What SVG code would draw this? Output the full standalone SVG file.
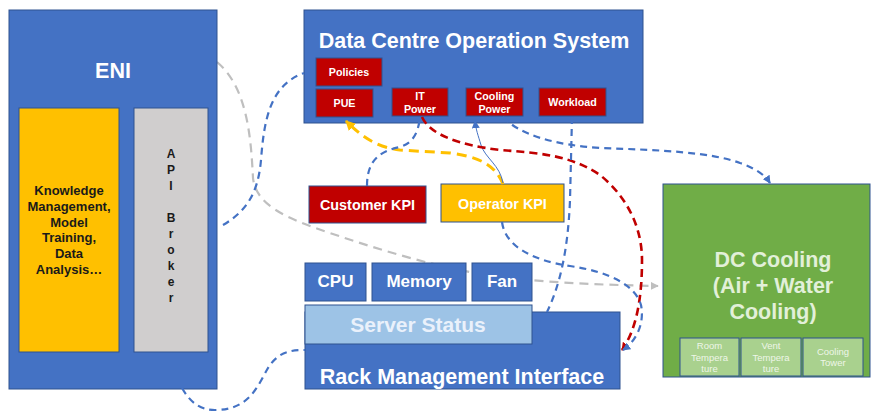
<svg xmlns="http://www.w3.org/2000/svg" width="871" height="412" viewBox="0 0 871 412">
<defs>
<style>
text{font-family:"Liberation Sans",Arial,sans-serif;font-weight:bold;text-anchor:middle}
.blue{fill:#4472C4;stroke:#2F528F;stroke-width:1}
.red{fill:#C00000;stroke:#2F528F;stroke-width:1}
.yel{fill:#FFC000;stroke:#2F528F;stroke-width:1}
.gry{fill:#D0CECE;stroke:#2F528F;stroke-width:1}
.w{fill:#FFFFFF}
.k{fill:#1a1a1a}
.t20{font-size:21.5px}
.t11{font-size:10.7px}
.c{fill:none;stroke-width:2.2;stroke-dasharray:7 5}
.cb{stroke:#4472C4}
.cr{stroke:#C00000;stroke-width:2.6;stroke-dasharray:8 5}
.cy{stroke:#FFC000;stroke-width:3;stroke-dasharray:10 6}
.cg{stroke:#BFBFBF;stroke-dasharray:9 6}
.sub{fill:#A9D18E;stroke:#2F528F;stroke-width:1}
.subt{font-size:9.5px;font-weight:normal;fill:#EEF6E8}
</style>
<marker id="ab" viewBox="0 0 10 10" refX="9" refY="5" markerWidth="8" markerHeight="8" markerUnits="userSpaceOnUse" orient="auto"><path d="M0,0 L10,5 L0,10 z" fill="#4472C4"/></marker>
<marker id="ar" viewBox="0 0 10 10" refX="9" refY="5" markerWidth="8" markerHeight="8" markerUnits="userSpaceOnUse" orient="auto"><path d="M0,0 L10,5 L0,10 z" fill="#C00000"/></marker>
<marker id="ay" viewBox="0 0 10 10" refX="9" refY="5" markerWidth="10" markerHeight="10" markerUnits="userSpaceOnUse" orient="auto"><path d="M0,0 L10,5 L0,10 z" fill="#FFC000"/></marker>
<marker id="ag" viewBox="0 0 10 10" refX="9" refY="5" markerWidth="8" markerHeight="8" markerUnits="userSpaceOnUse" orient="auto"><path d="M0,0 L10,5 L0,10 z" fill="#BFBFBF"/></marker>
</defs>
<rect width="871" height="412" fill="#FFFFFF"/>

<g id="connectors-back">
<path class="c cg" d="M217,62 C248,88 251,140 253,178 C256,205 285,218 330,233 C380,250 430,265 480,274 C530,282 600,285 658,286" marker-end="url(#ag)"/>
</g>

<g id="eni">
<rect class="blue" x="9" y="10" width="208" height="379"/>
<text class="w t20" x="113" y="78">ENI</text>
<rect class="yel" x="19" y="108" width="100" height="244"/>
<text class="k" font-size="13" x="69" y="195">Knowledge</text>
<text class="k" font-size="13" x="69" y="211">Management,</text>
<text class="k" font-size="13" x="69" y="227">Model</text>
<text class="k" font-size="13" x="69" y="242">Training,</text>
<text class="k" font-size="13" x="69" y="258">Data</text>
<text class="k" font-size="13" x="69" y="274">Analysis…</text>
<rect class="gry" x="134" y="108" width="74" height="244"/>
<g class="k" font-size="12">
<text x="171" y="158">A</text>
<text x="171" y="174">P</text>
<text x="171" y="190">I</text>
<text x="171" y="222">B</text>
<text x="171" y="238">r</text>
<text x="171" y="254">o</text>
<text x="171" y="270">k</text>
<text x="171" y="286">e</text>
<text x="171" y="302">r</text>
</g>
</g>

<g id="dcos">
<rect class="blue" x="304" y="10" width="339" height="113"/>
<text class="w t20" x="474" y="48">Data Centre Operation System</text>
<g id="policies"><rect class="red" x="316" y="58" width="66" height="28"/><text class="w t11" x="349" y="76">Policies</text></g>
<g id="pue"><rect class="red" x="316" y="89" width="57" height="28"/><text class="w t11" x="344.5" y="107">PUE</text></g>
<g id="it-power"><rect class="red" x="392" y="88" width="56" height="28"/><text class="w t11" x="420" y="100">IT</text><text class="w t11" x="420" y="113">Power</text></g>
<g id="cooling-power"><rect class="red" x="466" y="88" width="57" height="28"/><text class="w t11" x="494.5" y="100">Cooling</text><text class="w t11" x="494.5" y="113">Power</text></g>
<g id="workload"><rect class="red" x="539" y="88" width="67" height="28"/><text class="w t11" x="572.5" y="106">Workload</text></g>
</g>

<g id="customer-kpi">
<rect class="red" x="309" y="186" width="117" height="37"/>
<text class="w" font-size="14.4" x="367.5" y="210">Customer KPI</text>
</g>
<g id="operator-kpi">
<rect class="yel" x="441" y="184" width="123" height="38"/>
<text class="w" font-size="14.4" x="502.5" y="209">Operator KPI</text>
</g>

<g id="rack">
<rect class="blue" x="305" y="312" width="315" height="77"/>
<text class="w t20" x="462" y="384">Rack Management Interface</text>
<g id="cpu"><rect class="blue" x="305" y="263" width="61" height="38"/><text class="w" font-size="17" x="335.5" y="287">CPU</text></g>
<g id="memory"><rect class="blue" x="372" y="263" width="94" height="38"/><text class="w" font-size="17" x="419" y="287">Memory</text></g>
<g id="fan"><rect class="blue" x="472" y="263" width="60" height="38"/><text class="w" font-size="17" x="502" y="287">Fan</text></g>
<g id="server-status"><rect x="305" y="305" width="227" height="39" fill="#9DC3E6" stroke="#2F528F" stroke-width="1"/><text font-size="21" fill="#EAF1FB" x="418" y="332">Server Status</text></g>
</g>

<g id="dc-cooling">
<rect x="663" y="184" width="207" height="193" fill="#70AD47" stroke="#2F528F" stroke-width="1"/>
<text class="t20" fill="#E2F0D9" x="773" y="267">DC Cooling</text>
<text class="t20" fill="#E2F0D9" x="773" y="293">(Air + Water</text>
<text class="t20" fill="#E2F0D9" x="773" y="319">Cooling)</text>
<g id="room-temp"><rect class="sub" x="680" y="338" width="59" height="38"/><text class="subt" x="709.5" y="349">Room</text><text class="subt" x="709.5" y="361">Tempera</text><text class="subt" x="709.5" y="372">ture</text></g>
<g id="vent-temp"><rect class="sub" x="741" y="338" width="60" height="38"/><text class="subt" x="771" y="349">Vent</text><text class="subt" x="771" y="361">Tempera</text><text class="subt" x="771" y="372">ture</text></g>
<g id="cooling-tower"><rect class="sub" x="803" y="338" width="60" height="38"/><text class="subt" x="833" y="355">Cooling</text><text class="subt" x="833" y="366">Tower</text></g>
</g>

<g id="connectors">
<path class="c cb" d="M223,225 C245,212 258,195 261,160 C264,120 270,85 304,73"/>
<path class="c cb" d="M182,388 C190,402 200,410 215,410 C250,410 258,385 268,368 C278,352 290,350 305,350"/>
<path class="c cy" d="M503,184 C495,165 480,157 450,153 L400,150 C375,147 360,135 346,121" marker-end="url(#ay)"/>
<path fill="none" stroke="#4472C4" stroke-width="1" d="M503,183 C500,165 485,158 481,145 C478,135 476,130 475,121" marker-end="url(#ab)"/>
<path class="c cb" d="M367,186 C367,165 375,152 400,147 C412,143 418,135 420,117"/>
<path class="c cr" d="M422,117 C430,135 460,145 500,150 C540,153 570,155 600,175 C625,195 642,225 642,260 C642,300 636,330 622,350" marker-end="url(#ar)"/>
<path class="c cb" d="M572,117 L570,200 C568,250 560,285 547,312"/>
<path class="c cb" d="M503,117 C520,135 555,145 600,148 C660,150 710,152 740,163 C755,168 765,175 770,183" marker-end="url(#ab)"/>
<path class="c cb" d="M502,222 C505,245 530,260 570,266 C610,272 635,285 641,305 C645,325 635,342 623,350" marker-end="url(#ab)"/>
</g>
</svg>
